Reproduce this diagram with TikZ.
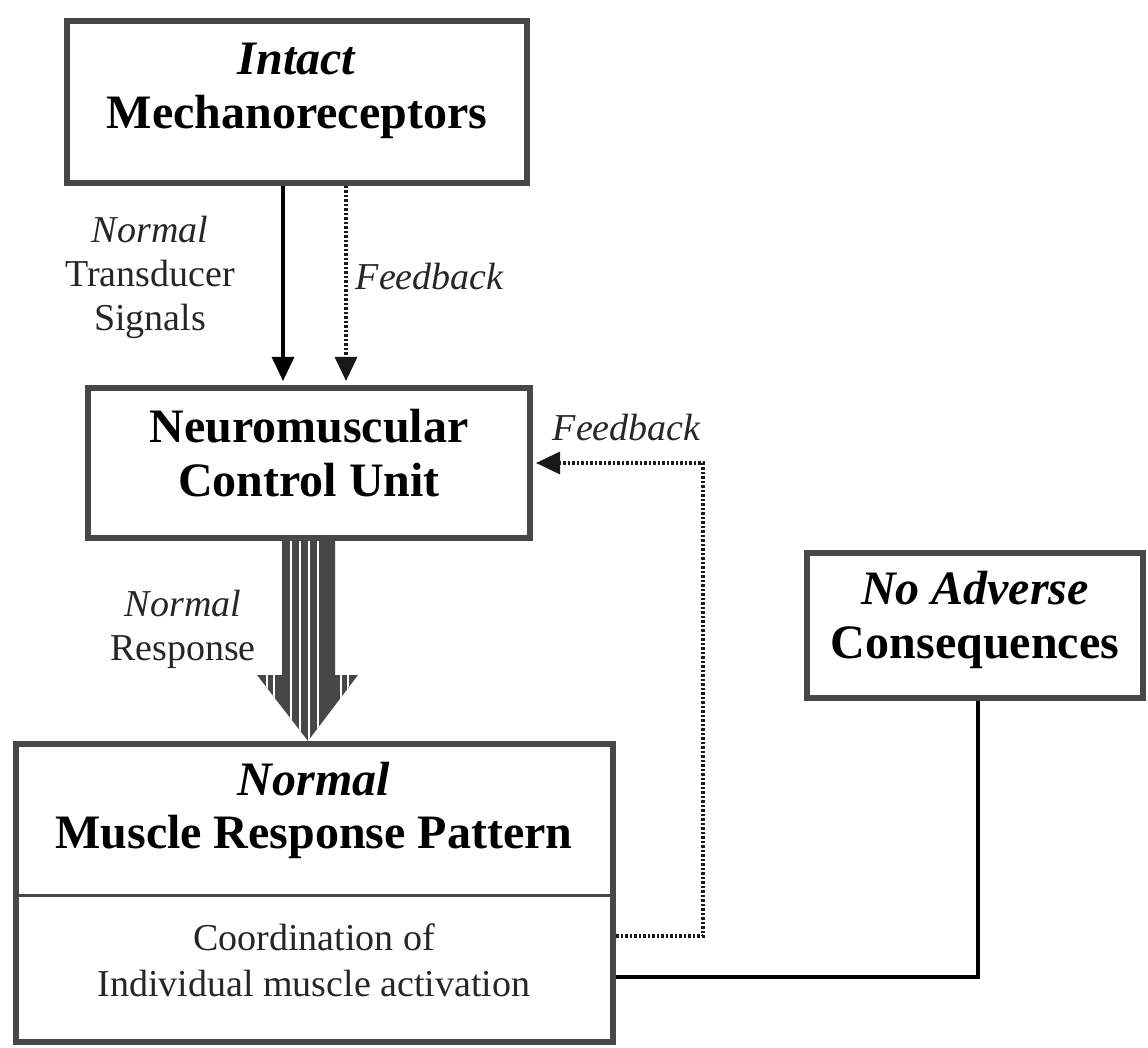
\documentclass[tikz,border=0pt]{standalone}
\usepackage{fontspec}
\setmainfont{Liberation Serif}
\usetikzlibrary{arrows.meta}
\begin{document}
\begin{tikzpicture}[x=1pt,y=-1pt,
  box/.style={draw=black!72, line width=6pt, fill=white, inner sep=0pt},
  ttl/.style={font=\fontsize{48}{54}\selectfont\bfseries, align=center, inner sep=0pt},
  lbl/.style={font=\fontsize{38}{44}\selectfont, align=center, inner sep=0pt, text=black!85},
  conn/.style={line width=3.2pt, draw=black},
  dots/.style={line width=3.2pt, draw=black!90, dash pattern=on 2.5pt off 2pt},
  tip/.style={-{Triangle[length=24pt,width=22pt]}}
]
\useasboundingbox (0,0) rectangle (1148,1048);

% boxes
\node[box, minimum width=460pt, minimum height=162pt] (box1) at (297,102) {};
\node[box, minimum width=442pt, minimum height=150pt] (box2) at (309,463) {};
\node[box, minimum width=336pt, minimum height=145pt] (box3) at (975,625.5) {};
\node[box, minimum width=597pt, minimum height=298pt] (box4) at (314.5,893) {};
\coordinate (dv) at (0,895);
\draw[draw=black!72, line width=3pt] (dv -| box4.west) -- (dv -| box4.east);

% box texts
\node[ttl] (t1) at (297,91) {\textit{Intact}\\Mechanoreceptors};
\node[ttl] (t2) at (309,453) {Neuromuscular\\Control Unit};
\node[ttl] (t3) at (975,620) {\textit{No Adverse}\\Consequences};
\node[ttl, font=\fontsize{48}{53}\selectfont\bfseries] (t4a) at (314,810) {\textit{Normal}\\Muscle Response Pattern};
\node[lbl, font=\fontsize{38}{46}\selectfont] (t4b) at (314,960) {Coordination of\\Individual muscle activation};

% labels
\node[lbl] (l1) at (150,277) {\textit{Normal}\\Transducer\\Signals};
\node[lbl] (l2) at (430,277) {\textit{Feedback}};
\node[lbl] (l3) at (627,428) {\textit{Feedback}};
\node[lbl] (l4) at (183,629) {\textit{Normal}\\Response};

% top connectors
\coordinate (a1) at (283,0);
\coordinate (a2) at (346,0);
\draw[conn, tip, shorten >=4pt] (a1 |- box1.south) -- (a1 |- box2.north);
\draw[dots, tip, shorten >=4pt] (a2 |- box1.south) -- (a2 |- box2.north);

% feedback loop
\coordinate (f1) at (703,936);
\coordinate (f2) at (703,463);
\draw[dots, tip, shorten >=3pt] (f1 -| box4.east) -- (f1) -- (f2) -- (f2 -| box2.east);

% consequence line
\coordinate (s1) at (978,977);
\draw[conn] (s1 -| box4.east) -- (s1) -- (s1 |- box3.south);

% striped response arrow
\def\arrowpath{(282,541) -- (282,675) -- (257,675) -- (308,741) -- (358,675) -- (335,675) -- (335,541) -- cycle}
\fill[black!72] \arrowpath;
\begin{scope}
\clip \arrowpath;
\foreach \x in {267,274,291,300,309,318,341,348}
  \draw[white, line width=1.8pt] (\x,530) -- (\x,745);
\end{scope}
\end{tikzpicture}
\end{document}
